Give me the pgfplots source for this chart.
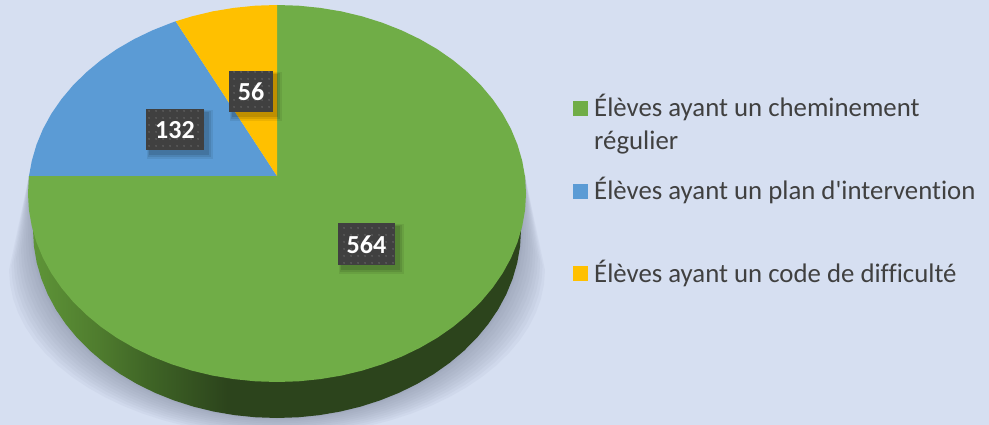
\documentclass[border=0pt]{standalone}
\usepackage{pgfplots}
\pgfplotsset{compat=1.18}
\usepackage{pgfplotstable}
\usepackage{fontspec}
\setmainfont[Ligatures=NoCommon]{Carlito}
\usetikzlibrary{patterns.meta}

\definecolor{bg}{HTML}{D6DFF1}
\definecolor{cgreen}{HTML}{70AD47}
\definecolor{cblue}{HTML}{5B9BD5}
\definecolor{cyellow}{HTML}{FFC000}
\definecolor{shadowc}{HTML}{7A8197}
\definecolor{boxc}{HTML}{404040}
\definecolor{dotc}{HTML}{5C5C5C}
\definecolor{legtext}{HTML}{404040}
\definecolor{sidea}{HTML}{5F9638}
\definecolor{sideb}{HTML}{4F7C2E}
\definecolor{sidec}{HTML}{3F6526}
\definecolor{sided}{HTML}{2C441C}
\pgfdeclarehorizontalshading{sidegrad}{100bp}{
  color(0bp)=(sidea);
  color(25bp)=(sidea);
  color(32bp)=(sideb);
  color(37bp)=(sidec);
  color(45bp)=(sided);
  color(100bp)=(sided)}

% rim outline of the disc: offsets a,b plus cos/sin of the lower half
\pgfplotstableread{
a b e c s
525 176 0 0 0
277 0 1 1.0000 0.0000
277 0 1 0.9962 0.0872
277 0 1 0.9848 0.1736
277 0 1 0.9659 0.2588
277 0 1 0.9397 0.3420
277 0 1 0.9063 0.4226
277 0 1 0.8660 0.5000
277 0 1 0.8192 0.5736
277 0 1 0.7660 0.6428
277 0 1 0.7071 0.7071
277 0 1 0.6428 0.7660
277 0 1 0.5736 0.8192
277 0 1 0.5000 0.8660
277 0 1 0.4226 0.9063
277 0 1 0.3420 0.9397
277 0 1 0.2588 0.9659
277 0 1 0.1736 0.9848
277 0 1 0.0872 0.9962
277 0 1 0.0000 1.0000
277 0 1 -0.0872 0.9962
277 0 1 -0.1736 0.9848
277 0 1 -0.2588 0.9659
277 0 1 -0.3420 0.9397
277 0 1 -0.4226 0.9063
277 0 1 -0.5000 0.8660
277 0 1 -0.5736 0.8192
277 0 1 -0.6428 0.7660
277 0 1 -0.7071 0.7071
277 0 1 -0.7660 0.6428
277 0 1 -0.8192 0.5736
277 0 1 -0.8660 0.5000
277 0 1 -0.9063 0.4226
277 0 1 -0.9397 0.3420
277 0 1 -0.9659 0.2588
277 0 1 -0.9848 0.1736
277 0 1 -0.9962 0.0872
277 0 1 -1.0000 0.0000
29 176 0 0 0
}\rimtable

\newcommand{\lab}[5]{%
  \fill[black,opacity=.07] (axis cs:#1+1,#2+1) rectangle (axis cs:#3+9,#4+9);
  \fill[black,opacity=.09] (axis cs:#1+2,#2+2) rectangle (axis cs:#3+7,#4+7);
  \fill[black,opacity=.11] (axis cs:#1+3,#2+3) rectangle (axis cs:#3+5,#4+5);
  \fill[boxc] (axis cs:#1,#2) rectangle (axis cs:#3,#4);
  \fill[pattern={Dots[distance=6.5pt,radius=1.1pt]},pattern color=dotc] (axis cs:#1,#2) rectangle (axis cs:#3,#4);
  \node[text=white,font=\fontsize{26}{28}\selectfont\bfseries,inner sep=0pt] at (axis cs:{(#1+#3)/2},{(#2+#4)/2+0.5}) {#5};
}
\newcommand{\legtxt}[3]{\node[anchor=base west,inner sep=0pt,text=legtext,font=\fontsize{26.8}{28}\selectfont] at (axis cs:#1,#2) {#3};}

\begin{document}
\begin{tikzpicture}
\begin{axis}[
  scale only axis, width=989pt, height=425pt,
  xmin=0, xmax=989, ymin=0, ymax=425, y dir=reverse,
  hide axis,
]
\addplot[fill=bg,draw=none] coordinates {(0,0)(989,0)(989,425)(0,425)};

% soft shadow under the disc
\pgfplotsinvokeforeach{1,0.9,0.8,0.7,0.6,0.5,0.4,0.3,0.2,0.1,0.05,0}{
  \addplot[fill=shadowc,fill opacity=.065,draw=none] table[
    x expr={\thisrow{a}+\thisrow{c}*(244+24*#1)},
    y expr={\thisrow{b}+\thisrow{e}*(230+40*#1)+\thisrow{s}*(188-22*#1)}] {\rimtable};
}
% side of the disc
\addplot[shading=sidegrad,draw=none] table[
  x expr={\thisrow{a}+\thisrow{c}*244},
  y expr={\thisrow{b}+\thisrow{e}*230+\thisrow{s}*188}] {\rimtable};

% 564
\addplot[fill=cgreen,draw=none] coordinates {
(277,176)(277,5)(298.7,5.7)(320.2,7.9)(341.4,11.4)(362.2,16.4)(382.2,22.7)(401.5,30.3)(419.8,39.1)(437.1,49.1)
(453.1,60.2)(467.7,72.3)(481,85.4)(492.6,99.2)(502.7,113.8)(511,129)(517.5,144.7)(522.2,160.8)(525.1,177.1)(526,193.5)
(525.1,209.9)(522.2,226.2)(517.5,242.3)(511,258)(502.7,273.2)(492.6,287.8)(481,301.6)(467.7,314.7)(453.1,326.8)
(437.1,337.9)(419.8,347.9)(401.5,356.7)(382.2,364.3)(362.2,370.6)(341.4,375.6)(320.2,379.1)(298.7,381.3)(277,382)
(255.3,381.3)(233.8,379.1)(212.6,375.6)(191.8,370.6)(171.8,364.3)(152.5,356.7)(134.2,347.9)(116.9,337.9)(100.9,326.8)
(86.3,314.7)(73,301.6)(61.4,287.8)(51.3,273.2)(43,258)(36.5,242.3)(31.8,226.2)(28.9,209.9)(28,193.5)(29,176)};
% 132
\addplot[fill=cblue,draw=none] coordinates {
(277,176)(29,176)(31.8,160.8)(36.5,144.7)(43,129)(51.3,113.8)(61.4,99.2)(73,85.4)(86.3,72.3)
(100.9,60.2)(116.9,49.1)(134.2,39.1)(152.5,30.3)(171.8,22.7)(175.7,21.3)};
% 56
\addplot[fill=cyellow,draw=none] coordinates {
(277,176)(175.7,21.3)(191.8,16.4)(212.6,11.4)(233.8,7.9)(255.3,5.7)(277,5)};

\lab{338}{223}{395}{265}{564}
\lab{146}{109}{204}{150}{132}
\lab{229}{71}{273}{112}{56}

% legend
\addplot[only marks,mark=square*,mark size=7pt,mark options={draw=cgreen,fill=cgreen}] coordinates {(580.5,108.5)};
\addplot[only marks,mark=square*,mark size=7pt,mark options={draw=cblue,fill=cblue}] coordinates {(580.5,191.5)};
\addplot[only marks,mark=square*,mark size=7pt,mark options={draw=cyellow,fill=cyellow}] coordinates {(580.5,273.5)};
\legtxt{594}{117}{Élèves ayant un cheminement}
\legtxt{594}{150}{régulier}
\legtxt{594}{200}{Élèves ayant un plan d\textquotesingle intervention}
\legtxt{594}{282}{Élèves ayant un code de difficulté}
\end{axis}
\end{tikzpicture}
\end{document}
